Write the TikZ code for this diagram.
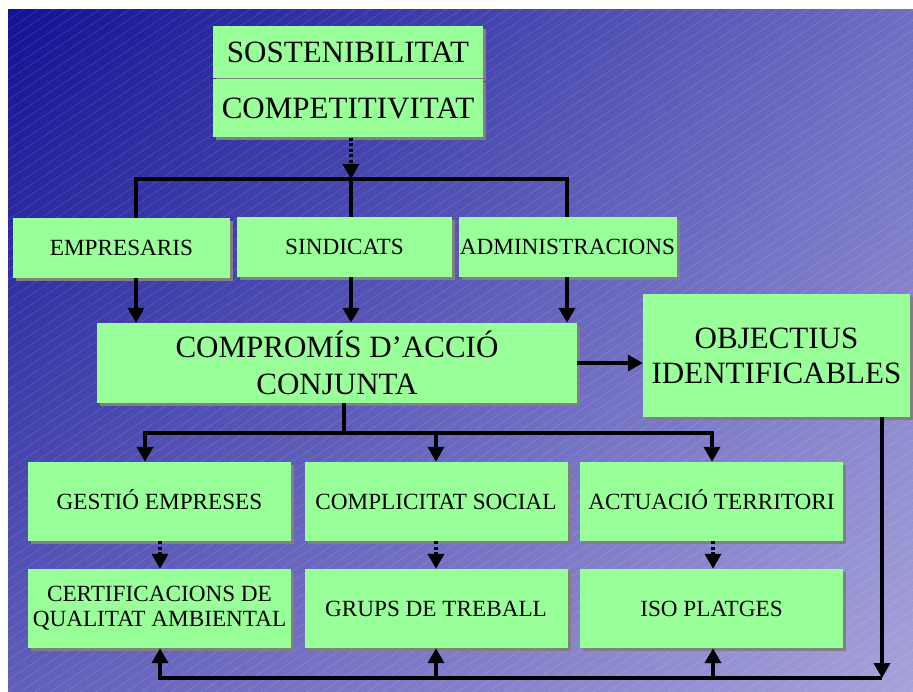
\documentclass[tikz,border=0pt]{standalone}
\usepackage{fontspec}
\setmainfont{Liberation Serif}
\usetikzlibrary{arrows.meta,shadows,shadings}
\definecolor{boxgreen}{RGB}{153,255,153}
\definecolor{bgUL}{RGB}{18,18,148}
\definecolor{bgUR}{RGB}{110,110,195}
\definecolor{bgLL}{RGB}{96,94,186}
\definecolor{bgLR}{RGB}{166,162,218}
\definecolor{shadowgray}{RGB}{128,128,128}
\tikzset{
  gbox/.style={fill=boxgreen, inner sep=0pt, align=center, text=black,
    drop shadow={shadow xshift=3pt, shadow yshift=-3pt, fill=shadowgray, opacity=1}},
  bigtext/.style={font=\fontsize{31}{37}\selectfont},
  smalltext/.style={font=\fontsize{23.2}{25}\selectfont},
  bigline/.style={text height=20.5pt, text depth=0pt},
  smallline/.style={text height=15.3pt, text depth=0pt},
  conn/.style={line width=4pt, black},
  arr/.style={conn, -{Triangle[length=15pt,width=16pt]}},
  dotarr/.style={line width=3.5pt, black, dash pattern=on 3pt off 2.5pt, -{Triangle[length=15pt,width=16pt]}},
  hatch/.style={white, opacity=0.15, line width=0.6pt}
}
\begin{document}
\begin{tikzpicture}[x=1pt,y=-1pt]
\useasboundingbox (0,0) rectangle (913,692);
\fill[white] (0,0) rectangle (913,692);
\begin{scope}
  \clip (8,10) rectangle (913,692);
  \shade[upper left=bgUL, upper right=bgUR, lower left=bgLL, lower right=bgLR] (8,10) rectangle (913,692);
  \foreach \k in {0,...,140} \draw[hatch] (8,10+\k*10) -- ++(905,-600);
\end{scope}

% boxes
\node[gbox, bigtext, bigline, minimum width=270, minimum height=52] (sost) at (348,52) {SOSTENIBILITAT};
\node[gbox, bigtext, bigline, minimum width=270, minimum height=58] (comp) at (348,108.5) {COMPETITIVITAT};
\node[gbox, smalltext, smallline, minimum width=217, minimum height=60] (emp) at (121.5,248) {EMPRESARIS};
\node[gbox, smalltext, smallline, minimum width=215, minimum height=60] (sind) at (344.5,247) {SINDICATS};
\node[gbox, smalltext, smallline, minimum width=218, minimum height=60] (adm) at (567.5,247) {ADMINISTRACIONS};
\node[gbox, bigtext, minimum width=480, minimum height=80] (compromis) at (337,363) {COMPROM\'IS D’ACCI\'O\\CONJUNTA};
\node[gbox, bigtext, minimum width=267, minimum height=123, font=\fontsize{31}{35}\selectfont] (objectius) at (776.5,355.5) {OBJECTIUS\\IDENTIFICABLES};
\node[gbox, smalltext, smallline, minimum width=263, minimum height=79] (gestio) at (159.5,501.5) {GESTI\'O EMPRESES};
\node[gbox, smalltext, smallline, minimum width=263, minimum height=79] (complicitat) at (436,501.5) {COMPLICITAT SOCIAL};
\node[gbox, smalltext, smallline, minimum width=263, minimum height=79] (actuacio) at (711.5,501.5) {ACTUACI\'O TERRITORI};
\node[gbox, smalltext, minimum width=263, minimum height=79] (cert) at (159.5,608.5) {CERTIFICACIONS DE\\QUALITAT AMBIENTAL};
\node[gbox, smalltext, smallline, minimum width=263, minimum height=79] (grups) at (436,608.5) {GRUPS DE TREBALL};
\node[gbox, smalltext, smallline, minimum width=263, minimum height=79] (iso) at (711.5,608.5) {ISO PLATGES};

% junction coordinates
\coordinate (t0) at (351,179);
\coordinate (tl) at (136,179);
\coordinate (tr) at (567,179);
\coordinate (b0) at (344,433);
\coordinate (bl) at (145,433);
\coordinate (bm) at (436,433);
\coordinate (br) at (712,433);
\coordinate (u1) at (160,678);
\coordinate (u2) at (436,678);
\coordinate (u3) at (713,678);
\coordinate (bb) at (882,678);

% top part
\draw[dotarr] (comp.south -| t0) -- (t0);
\draw[conn] (emp.north -| tl) -- (tl) -- (tr) -- (adm.north -| tr);
\draw[conn] (t0) -- (sind.north -| t0);
\draw[arr] (emp.south -| tl) -- (compromis.north -| tl);
\draw[arr] (sind.south -| t0) -- (compromis.north -| t0);
\draw[arr] (adm.south -| tr) -- (compromis.north -| tr);

% to objectives
\draw[arr] (compromis.east) -- (objectius.west |- compromis.east);

% lower part
\draw[conn] (compromis.south -| b0) -- (b0);
\draw[arr] (br) -- (bl) -- (gestio.north -| bl);
\draw[arr] (bm) -- (complicitat.north -| bm);
\draw[arr] (bl) -- (br) -- (actuacio.north -| br);

\draw[dotarr] (gestio.south -| u1) -- (cert.north -| u1);
\draw[dotarr] (complicitat.south -| u2) -- (grups.north -| u2);
\draw[dotarr] (actuacio.south -| u3) -- (iso.north -| u3);

% feedback loop
\draw[arr] (objectius.south -| bb) -- (bb);
\draw[arr] (bb) -- (u1) -- (cert.south -| u1);
\draw[arr] (u2) -- (grups.south -| u2);
\draw[arr] (u3) -- (iso.south -| u3);
\end{tikzpicture}
\end{document}
